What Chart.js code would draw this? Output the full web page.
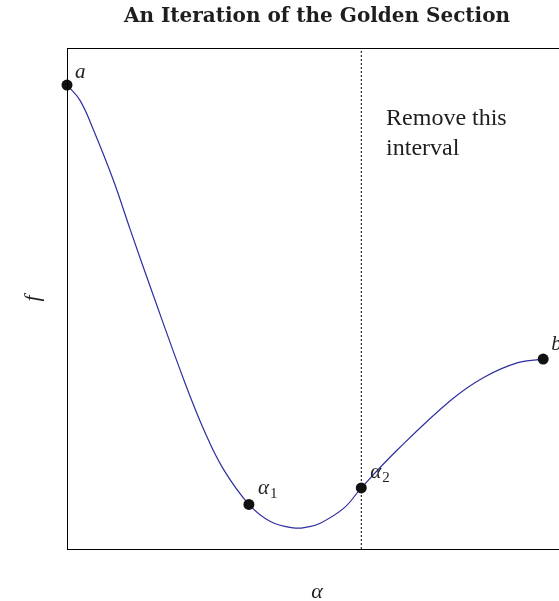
<!DOCTYPE html>
<html>
<head>
<meta charset="utf-8">
<title>Golden Section</title>
<script src="https://cdn.jsdelivr.net/npm/chart.js@4.4.1/dist/chart.umd.min.js"></script>
<style>
  html, body { margin: 0; padding: 0; overflow: hidden; background: #fff; }
  #wrap { width: 634px; height: 601px; position: relative; }
</style>
</head>
<body>
<div id="wrap"><canvas id="chart"></canvas></div>
<script>
// f(alpha) sampled along the search interval
const curveX = [0, 0.027, 0.055, 0.097, 0.133, 0.178, 0.248, 0.291, 0.328, 0.382, 0.427, 0.476,
                0.505, 0.533, 0.582, 0.618, 0.694, 0.806, 0.876, 0.947, 1];
const curveY = [0.926, 0.896, 0.838, 0.737, 0.637, 0.515, 0.331, 0.230, 0.160, 0.089, 0.055, 0.042,
                0.044, 0.052, 0.082, 0.122, 0.198, 0.297, 0.343, 0.372, 0.379];

// bracket ends and the two golden-section trial points
const markLabels = ['a', 'α_1', 'α_2', 'b'];
const markX = [0, 0.382, 0.618, 1];
const markY = [0.926, 0.089, 0.122, 0.379];

// cut position and the note over the discarded part
const cutX = 0.618;
const noteLines = ['Remove this', 'interval'];
const noteAt = { x: 0.67, y: 0.858 };

const serif = "'Liberation Serif', 'DejaVu Serif', serif";
const ink = '#1e1e1e';

// label offsets in pixels from each marked point
const labelOffset = [[8, -14], [9, -17], [9, -17], [8, -16]];

const annotate = {
  id: 'annotate',
  afterDatasetsDraw(chart) {
    const { ctx, chartArea: area, scales: { x, y } } = chart;
    ctx.save();

    // plot frame
    ctx.strokeStyle = '#000';
    ctx.lineWidth = 1;
    ctx.strokeRect(area.left + 0.5, area.top + 0.5, area.right - area.left, area.bottom - area.top);

    ctx.fillStyle = ink;
    ctx.textBaseline = 'alphabetic';
    ctx.textAlign = 'left';
    markLabels.forEach((lab, i) => {
      const px = x.getPixelForValue(markX[i]) + labelOffset[i][0];
      const py = y.getPixelForValue(markY[i]) + labelOffset[i][1] + 7;
      const [main, sub] = lab.split('_');
      ctx.font = `italic 21px ${serif}`;
      ctx.fillText(main, px, py);
      if (sub) {
        const w = ctx.measureText(main).width;
        ctx.font = `15px ${serif}`;
        ctx.fillText(sub, px + w + 1, py + 4);
      }
    });

    ctx.font = `24px ${serif}`;
    ctx.textBaseline = 'middle';
    const nx = x.getPixelForValue(noteAt.x);
    const ny = y.getPixelForValue(noteAt.y);
    noteLines.forEach((line, i) => ctx.fillText(line, nx, ny + i * 30));

    ctx.restore();
  }
};

// keeps a blank margin on the right so the title centres over the plot
const blankAxis = {
  display: true,
  position: 'right',
  grid: { display: false },
  ticks: { display: false },
  border: { display: false },
  afterFit(scale) { scale.width = 67; }
};

new Chart(document.getElementById('chart'), {
  type: 'line',
  data: {
    datasets: [
      {
        type: 'scatter',
        data: markX.map((v, i) => ({ x: v, y: markY[i] })),
        pointRadius: 5.5,
        pointBackgroundColor: '#111',
        pointBorderWidth: 0,
        clip: false,
        order: 0
      },
      {
        data: curveX.map((v, i) => ({ x: v, y: curveY[i] })),
        borderColor: '#2e2ea0',
        borderWidth: 1.2,
        pointRadius: 0,
        tension: 0.4,
        fill: false,
        order: 1
      },
      {
        data: [{ x: cutX, y: 0 }, { x: cutX, y: 1 }],
        borderColor: '#000',
        borderWidth: 1,
        borderDash: [2, 2],
        pointRadius: 0,
        order: 2
      }
    ]
  },
  options: {
    responsive: true,
    maintainAspectRatio: false,
    animation: false,
    events: [],
    layout: { padding: 0 },
    plugins: {
      legend: { display: false },
      tooltip: { enabled: false },
      title: {
        display: true,
        text: 'An Iteration of the Golden Section',
        color: ink,
        font: { family: "'DejaVu Serif', serif", weight: 'bold', size: 20, lineHeight: 1.2 },
        padding: { top: 4.5, bottom: 19.5 }
      }
    },
    scales: {
      x: {
        type: 'linear',
        min: 0,
        max: 1.05,
        grid: { display: false },
        ticks: { display: false },
        border: { display: false },
        title: {
          display: true,
          text: 'α',
          color: ink,
          font: { family: serif, style: 'italic', size: 22, lineHeight: 0.8 },
          padding: 0
        },
        afterFit(scale) { scale.height = 52; }
      },
      y: {
        type: 'linear',
        min: 0,
        max: 1,
        grid: { display: false },
        ticks: { display: false },
        border: { display: false },
        title: {
          display: true,
          text: 'f',
          color: ink,
          font: { family: serif, style: 'italic', size: 22, lineHeight: 1.2 },
          padding: { top: 20, bottom: 0 }
        },
        afterFit(scale) { scale.width = 67; }
      },
      yRight: blankAxis
    }
  },
  plugins: [annotate]
});
</script>
</body>
</html>
